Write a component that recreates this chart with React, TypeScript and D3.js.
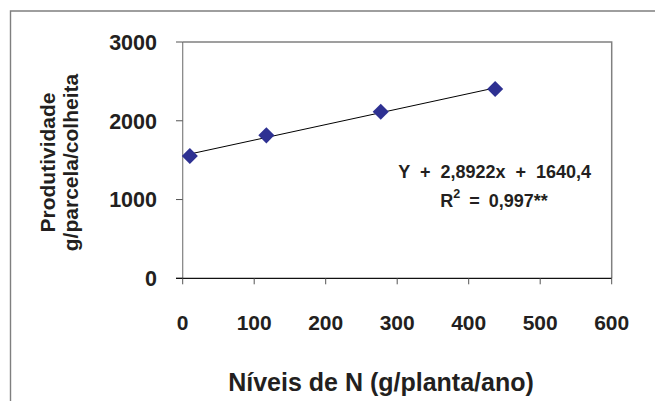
import React from "react";
import * as d3 from "d3";

const nLevels = [10, 117, 277, 437];
const productivity = [1553, 1815, 2115, 2403];
const xTickValues = [0, 100, 200, 300, 400, 500, 600];
const yTickValues = [0, 1000, 2000, 3000];
const xTitle = "Níveis de N (g/planta/ano)";
const yTitleLines = ["Produtividade", "g/parcela/colheita"];
const equationText = "Y + 2,8922x + 1640,4";
const r2Prefix = "R";
const r2Sup = "2";
const r2Suffix = " = 0,997**";

const W = 655;
const H = 401;
const TEXT = "#231f20";
const FONT = "'Liberation Sans', Arial, Helvetica, sans-serif";

export default function App() {
  const x = d3.scaleLinear().domain([0, 600]).range([182.7, 611.7]);
  const y = d3.scaleLinear().domain([0, 3000]).range([278.3, 42]);

  // least squares trend line from data
  const mx = d3.mean(nLevels)!;
  const my = d3.mean(productivity)!;
  let sxy = 0;
  let sxx = 0;
  nLevels.forEach((v, i) => {
    sxy += (v - mx) * (productivity[i] - my);
    sxx += (v - mx) * (v - mx);
  });
  const slope = sxy / sxx;
  const intercept = my - slope * mx;
  const x0 = d3.min(nLevels)!;
  const x1 = d3.max(nLevels)!;
  const trend = d3.line<number>()
    .x((d) => x(d))
    .y((d) => y(slope * d + intercept))([x0, x1]);

  const diamond = d3.symbol().type(d3.symbolDiamond2).size(165)();

  const [xl, xr] = x.range();
  const [yb, yt] = y.range();

  return (
    <div style={{ position: "fixed", left: 0, top: 0 }}>
      <svg width={W} height={H} style={{ display: "block", background: "#fff" }} fontFamily={FONT}>
        <rect x={0} y={0} width={W} height={H} fill="#fff" />
        {/* outer frame */}
        <path d={`M10.5,${H + 2} V11 H${W + 2}`} fill="none" stroke="#7f7f7f" strokeWidth={1.4} />
        {/* plot frame top/right */}
        <path d={`M${xl},${yt} H${xr} V${yb}`} fill="none" stroke="#808080" strokeWidth={1.5} />
        {/* y axis */}
        <line x1={xl} x2={xl} y1={yt} y2={yb} stroke="#808080" strokeWidth={1.2} />
        {yTickValues.map((t) => (
          <g key={"yt" + t}>
            <line x1={176} x2={xl} y1={y(t)} y2={y(t)} stroke="#555" strokeWidth={1} />
            <text x={157} y={y(t)} dy="0.36em" textAnchor="end" fontSize={21.5} fontWeight="bold" fill={TEXT}>
              {t}
            </text>
          </g>
        ))}
        {/* x axis */}
        <line x1={176} x2={xr} y1={yb} y2={yb} stroke="#111" strokeWidth={1.2} />
        {xTickValues.map((t) => (
          <g key={"xt" + t}>
            <line x1={x(t)} x2={x(t)} y1={yb} y2={yb + 6} stroke="#555" strokeWidth={1} />
            <text x={x(t)} y={329.5} textAnchor="middle" fontSize={21} fontWeight="bold" fill={TEXT}>
              {t}
            </text>
          </g>
        ))}
        {/* trend line */}
        <path d={trend!} fill="none" stroke="#000" strokeWidth={1} />
        {/* points */}
        {nLevels.map((v, i) => (
          <path
            key={"p" + i}
            d={diamond!}
            transform={`translate(${x(v)},${y(productivity[i])})`}
            fill="#2e3192"
          />
        ))}
        {/* equation */}
        <text x={494.7} y={178} textAnchor="middle" fontSize={18} fontWeight="bold" fill={TEXT} style={{ wordSpacing: "5px" }}>
          {equationText}
        </text>
        <text x={494} y={206.5} textAnchor="middle" fontSize={18} fontWeight="bold" fill={TEXT} style={{ wordSpacing: "4px", whiteSpace: "pre" }}>
          {r2Prefix}
          <tspan fontSize={12.5} dy={-8.5}>{r2Sup}</tspan>
          <tspan dy={8.5}>{r2Suffix}</tspan>
        </text>
        {/* axis titles */}
        <text x={381} y={391} textAnchor="middle" fontSize={25} fontWeight="bold" fill={TEXT}>
          {xTitle}
        </text>
        {yTitleLines.map((line, i) => (
          <text
            key={"yl" + i}
            transform={`translate(${55 + i * 23},162.5) rotate(-90)`}
            textAnchor="middle"
            fontSize={21}
            fontWeight="bold"
            fill={TEXT}
          >
            {line}
          </text>
        ))}
      </svg>
    </div>
  );
}
